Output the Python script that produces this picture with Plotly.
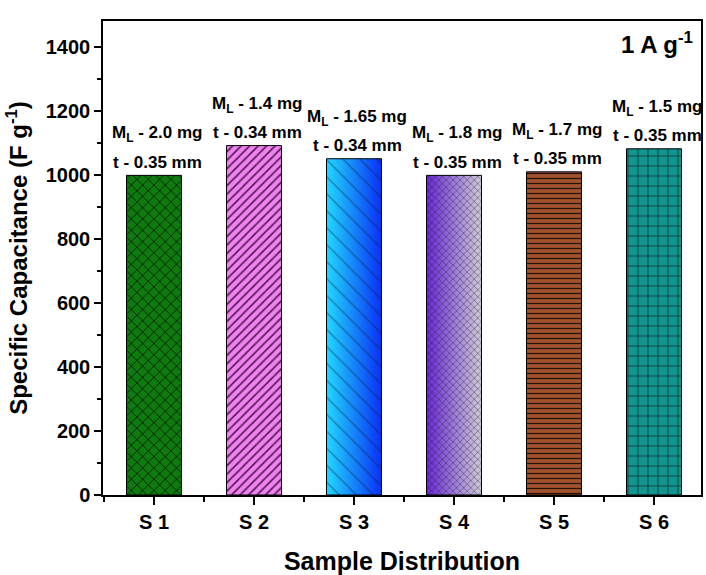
import plotly.graph_objects as go

samples = ["S 1", "S 2", "S 3", "S 4", "S 5", "S 6"]
capacitance = [998, 1091, 1050, 998, 1009, 1081]
mass_labels = ["M<sub>L</sub> - 2.0 mg", "M<sub>L</sub> - 1.4 mg", "M<sub>L</sub> - 1.65 mg",
               "M<sub>L</sub> - 1.8 mg", "M<sub>L</sub> - 1.7 mg", "M<sub>L</sub> - 1.5 mg"]
thick_labels = ["t - 0.35 mm", "t - 0.34 mm", "t - 0.34 mm",
                "t - 0.35 mm", "t - 0.35 mm", "t - 0.35 mm"]

# fill styles: solid colour or horizontal gradient (left colour, right colour)
bar_fill = ["#0f7a0f", "#ee82ee", ("#22d8ff", "#0a30f5"), ("#6a28d8", "#cfcbd8"),
            "#a0522d", "#12948f"]
pat_shapes = ["x", "/", "\\", "x", "-", "+"]
pat_fg = ["#062806", "#4a104a", "#061a40", "#1a1a1a", "#2a1208", "#061e1e"]
pat_size = [8, 6, 12, 5, 5, 10]
pat_sol = [0.22, 0.25, 0.1, 0.28, 0.25, 0.12]

BAR_W = 0.55
FONT = "Liberation Sans, Arial, sans-serif"
xpos = list(range(1, len(samples) + 1))

fig = go.Figure()

# gradient underlays (base axes) for gradient-filled bars
for xi, yi, fill in zip(xpos, capacitance, bar_fill):
    if isinstance(fill, tuple):
        x0, x1 = xi - BAR_W / 2, xi + BAR_W / 2
        fig.add_trace(go.Scatter(
            x=[x0, x1, x1, x0, x0], y=[0, 0, yi, yi, 0], mode="lines",
            line=dict(width=0), fill="toself",
            fillgradient=dict(type="horizontal", colorscale=[[0, fill[0]], [1, fill[1]]]),
            showlegend=False, hoverinfo="skip", xaxis="x", yaxis="y"))

# patterned bars (overlay axes, drawn above the gradients)
for xi, yi, fill, sh, fg, sz, so in zip(xpos, capacitance, bar_fill, pat_shapes,
                                         pat_fg, pat_size, pat_sol):
    if isinstance(fill, tuple):
        marker = dict(color="rgba(0,0,0,0)", line=dict(color="black", width=1),
                      pattern=dict(shape=sh, fgcolor=fg, size=sz, solidity=so,
                                   fillmode="overlay"))
    else:
        marker = dict(color=fill, line=dict(color="black", width=1),
                      pattern=dict(shape=sh, fgcolor=fg, bgcolor=fill, size=sz,
                                   solidity=so, fillmode="replace"))
    fig.add_trace(go.Bar(x=[xi], y=[yi], width=BAR_W, marker=marker,
                         showlegend=False, hoverinfo="skip", xaxis="x2", yaxis="y2"))

for xi, yi, m, t in zip(xpos, capacitance, mass_labels, thick_labels):
    fig.add_annotation(x=xi, y=yi, text=t, showarrow=False, xanchor="center",
                       yanchor="middle", yshift=13, xshift=3,
                       font=dict(family=FONT, size=17, color="black", weight="bold"))
    fig.add_annotation(x=xi, y=yi, text=m, showarrow=False, xanchor="center",
                       yanchor="middle", yshift=41, xshift=3,
                       font=dict(family=FONT, size=17, color="black", weight="bold"))

fig.add_annotation(x=0.927, y=0.954, xref="paper", yref="paper", xanchor="center",
                   yanchor="middle", text="1 A g<sup>-1</sup>", showarrow=False,
                   font=dict(family=FONT, size=24, color="black", weight="bold"))

XR = [0.49, 6.47]
YR = [0, 1480]
fig.update_layout(
    width=706, height=575,
    margin=dict(l=103, r=3, t=21, b=78),
    plot_bgcolor="white", paper_bgcolor="white",
    font=dict(family=FONT, color="black"),
    barmode="overlay",
    xaxis2=dict(overlaying="x", range=XR, visible=False),
    yaxis2=dict(overlaying="y", range=YR, visible=False),
)
fig.layout.xaxis.update(
    range=XR, tickmode="array", tickvals=xpos, ticktext=samples,
    showline=True, linecolor="black", linewidth=1.5, mirror=True,
    ticks="outside", ticklen=8, tickwidth=1.5, tickcolor="black",
    minor=dict(tickmode="array", tickvals=[v + 0.5 for v in range(0, 7)],
               ticks="outside", ticklen=5, tickwidth=1.5, tickcolor="black"),
    showgrid=False, zeroline=False,
    tickfont=dict(family=FONT, size=20, color="black", weight="bold"),
    title=dict(text="Sample Distribution", standoff=22,
               font=dict(family=FONT, size=25, color="black", weight="bold")),
)
fig.layout.yaxis.update(
    range=YR, tickmode="linear", tick0=0, dtick=200,
    showline=True, linecolor="black", linewidth=1.5, mirror=True,
    ticks="outside", ticklen=7, tickwidth=1.5, tickcolor="black",
    minor=dict(dtick=100, ticks="outside", ticklen=4, tickwidth=1.5, tickcolor="black"),
    showgrid=False, zeroline=False,
    tickfont=dict(family=FONT, size=20, color="black", weight="bold"),
    title=dict(text="Specific Capacitance (F g<sup>-1</sup>)", standoff=11,
               font=dict(family=FONT, size=24, color="black", weight="bold")),
)

fig.write_html("out.html")
